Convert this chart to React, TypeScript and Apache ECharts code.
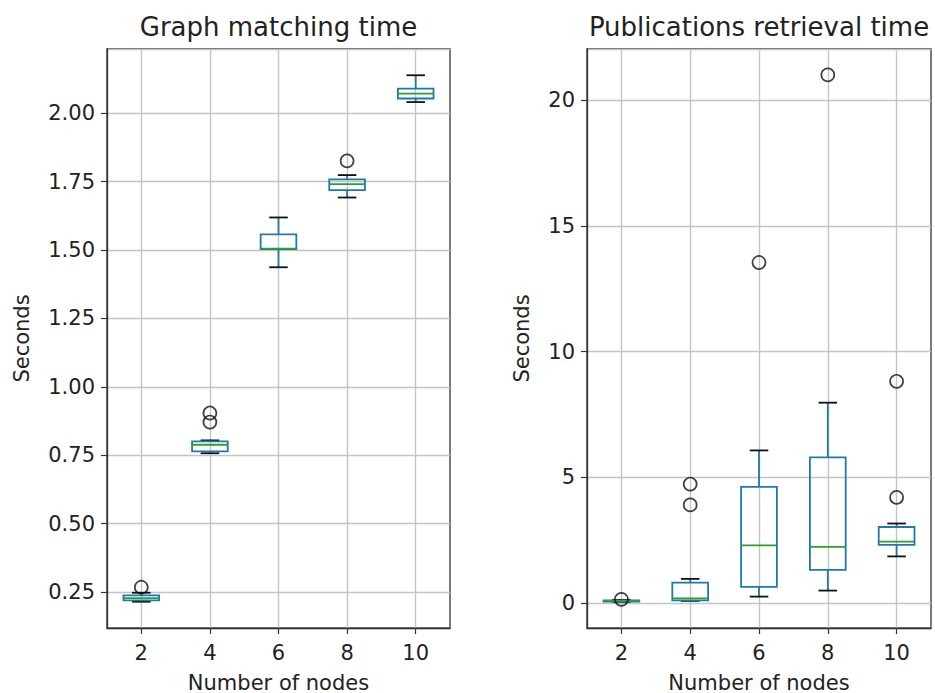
import React, { useEffect, useRef } from "react";
import * as echarts from "echarts";

const nodes = ["2", "4", "6", "8", "10"];

// [lower whisker, Q1, median, Q3, upper whisker]
const matchBoxes = [
  [0.214, 0.219, 0.227, 0.237, 0.247],
  [0.757, 0.764, 0.788, 0.8, 0.804],
  [1.437, 1.503, 1.505, 1.557, 1.619],
  [1.692, 1.719, 1.741, 1.758, 1.774],
  [2.041, 2.054, 2.072, 2.09, 2.139],
];
const matchOutliers: [string, number][] = [
  ["2", 0.267],
  ["4", 0.871],
  ["4", 0.904],
  ["8", 1.826],
];

const pubBoxes = [
  [0.04, 0.05, 0.08, 0.1, 0.12],
  [0.08, 0.1, 0.18, 0.81, 0.955],
  [0.25, 0.64, 2.29, 4.62, 6.07],
  [0.49, 1.31, 2.23, 5.79, 7.97],
  [1.85, 2.31, 2.44, 3.02, 3.16],
];
const pubOutliers: [string, number][] = [
  ["2", 0.14],
  ["4", 3.9],
  ["4", 4.73],
  ["6", 13.55],
  ["8", 21.02],
  ["10", 4.2],
  ["10", 8.82],
];

const matchTicks = [0.25, 0.5, 0.75, 1.0, 1.25, 1.5, 1.75, 2.0];
const pubTicks = [0, 5, 10, 15, 20];

const FONT = "DejaVu Sans";
const TXT = "#222";
const BLUE = "#1f77b4";
const GREEN = "#2ca02c";
const GRIDC = "#c4c4c4";

function renderBox(params: any, api: any) {
  const i = api.value(0);
  const lo = api.value(1);
  const q1 = api.value(2);
  const med = api.value(3);
  const q3 = api.value(4);
  const hi = api.value(5);
  const band = api.size([1, 0])[0];
  const hw = band * 0.26;
  const cw = band * 0.135;
  const pLo = api.coord([i, lo]);
  const pQ1 = api.coord([i, q1]);
  const pMed = api.coord([i, med]);
  const pQ3 = api.coord([i, q3]);
  const pHi = api.coord([i, hi]);
  const x = pMed[0];
  const lw = 1.8;
  return {
    type: "group",
    children: [
      { type: "line", shape: { x1: x, y1: pLo[1], x2: x, y2: pQ1[1] }, style: { stroke: BLUE, lineWidth: lw } },
      { type: "line", shape: { x1: x, y1: pQ3[1], x2: x, y2: pHi[1] }, style: { stroke: BLUE, lineWidth: lw } },
      { type: "line", shape: { x1: x - cw, y1: pLo[1], x2: x + cw, y2: pLo[1] }, style: { stroke: "#111", lineWidth: lw } },
      { type: "line", shape: { x1: x - cw, y1: pHi[1], x2: x + cw, y2: pHi[1] }, style: { stroke: "#111", lineWidth: lw } },
      {
        type: "rect",
        shape: { x: x - hw, y: pQ3[1], width: 2 * hw, height: pQ1[1] - pQ3[1] },
        style: { fill: "none", stroke: BLUE, lineWidth: lw },
      },
      { type: "line", shape: { x1: x - hw, y1: pMed[1], x2: x + hw, y2: pMed[1] }, style: { stroke: GREEN, lineWidth: lw } },
    ],
  };
}

export default function App() {
  const ref = useRef<HTMLDivElement>(null);
  useEffect(() => {
    if (!ref.current) return;
    const chart = echarts.init(ref.current, null, { renderer: "svg" });
    const gridBase = {
      top: 49,
      height: 579,
      show: true,
      borderColor: "#333",
      borderWidth: 1.3,
      backgroundColor: "#fff",
      containLabel: false,
      outerBoundsMode: "none",
    };
    const xAxisBase = (gridIndex: number) => ({
      type: "category",
      gridIndex,
      data: nodes,
      name: "Number of nodes",
      nameLocation: "middle",
      nameGap: 44,
      nameTextStyle: { fontFamily: FONT, fontSize: 21, color: TXT },
      axisLine: { show: true, onZero: false, lineStyle: { color: "#333", width: 1.3 } },
      axisTick: { show: true, alignWithLabel: true, length: 6, lineStyle: { color: "#333", width: 1.2 } },
      axisLabel: { fontFamily: FONT, fontSize: 21, color: TXT, margin: 14 },
      splitLine: { show: true, alignWithLabel: true, lineStyle: { color: GRIDC, width: 1.4 } },
    });
    const yAxisBase = (gridIndex: number, min: number, max: number, step: number, fmt: (v: number) => string, gap: number) => ({
      type: "value",
      gridIndex,
      min,
      max,
      minInterval: step,
      maxInterval: step,
      name: "Seconds",
      nameLocation: "middle",
      nameGap: gap,
      nameTextStyle: { fontFamily: FONT, fontSize: 21, color: TXT },
      axisLine: { show: true, onZero: false, lineStyle: { color: "#333", width: 1.3 } },
      axisTick: { show: true, length: 6, lineStyle: { color: "#333", width: 1.2 } },
      axisLabel: { fontFamily: FONT, fontSize: 21, color: TXT, margin: 12, showMinLabel: false, showMaxLabel: false, formatter: fmt },
      splitLine: { show: true, lineStyle: { color: GRIDC, width: 1.4 } },
    });
    const matchData = matchBoxes.map((b, i) => [i, ...b]);
    const pubData = pubBoxes.map((b, i) => [i, ...b]);
    const outlierStyle = { color: "rgba(0,0,0,0)", borderColor: "#111", borderWidth: 1.7 };
    chart.setOption({
      animation: false,
      backgroundColor: "#fff",
      textStyle: { fontFamily: FONT },
      grid: [
        { ...gridBase, left: 107, width: 343 },
        { ...gridBase, left: 587, width: 344 },
      ],
      xAxis: [xAxisBase(0), xAxisBase(1)],
      yAxis: [
        yAxisBase(0, 0.118, 2.235, 0.25, (v: number) => (matchTicks.some((t) => Math.abs(t - v) < 1e-6) ? v.toFixed(2) : ""), 75),
        yAxisBase(1, -1.0, 22.05, 5, (v: number) => (pubTicks.some((t) => Math.abs(t - v) < 1e-6) ? String(Math.round(v)) : ""), 55),
      ],
      graphic: [
        { type: "text", x: 278.5, y: 27, style: { text: "Graph matching time", fontFamily: FONT, fontSize: 26, fill: TXT, align: "center", verticalAlign: "middle" } },
        { type: "text", x: 759, y: 27, style: { text: "Publications retrieval time", fontFamily: FONT, fontSize: 26, fill: TXT, align: "center", verticalAlign: "middle" } },
      ],
      series: [
        {
          type: "custom",
          xAxisIndex: 0,
          yAxisIndex: 0,
          renderItem: renderBox,
          encode: { x: 0, y: [1, 2, 3, 4, 5] },
          data: matchData,
          z: 3,
        },
        {
          type: "scatter",
          xAxisIndex: 0,
          yAxisIndex: 0,
          symbol: "circle",
          symbolSize: 13,
          itemStyle: outlierStyle,
          data: matchOutliers,
          z: 4,
        },
        {
          type: "custom",
          xAxisIndex: 1,
          yAxisIndex: 1,
          renderItem: renderBox,
          encode: { x: 0, y: [1, 2, 3, 4, 5] },
          data: pubData,
          z: 3,
        },
        {
          type: "scatter",
          xAxisIndex: 1,
          yAxisIndex: 1,
          symbol: "circle",
          symbolSize: 13,
          itemStyle: outlierStyle,
          data: pubOutliers,
          z: 4,
        },
      ],
    });
    return () => chart.dispose();
  }, []);
  return <div ref={ref} style={{ position: "absolute", left: 0, top: 0, width: 935, height: 693 }} />;
}
